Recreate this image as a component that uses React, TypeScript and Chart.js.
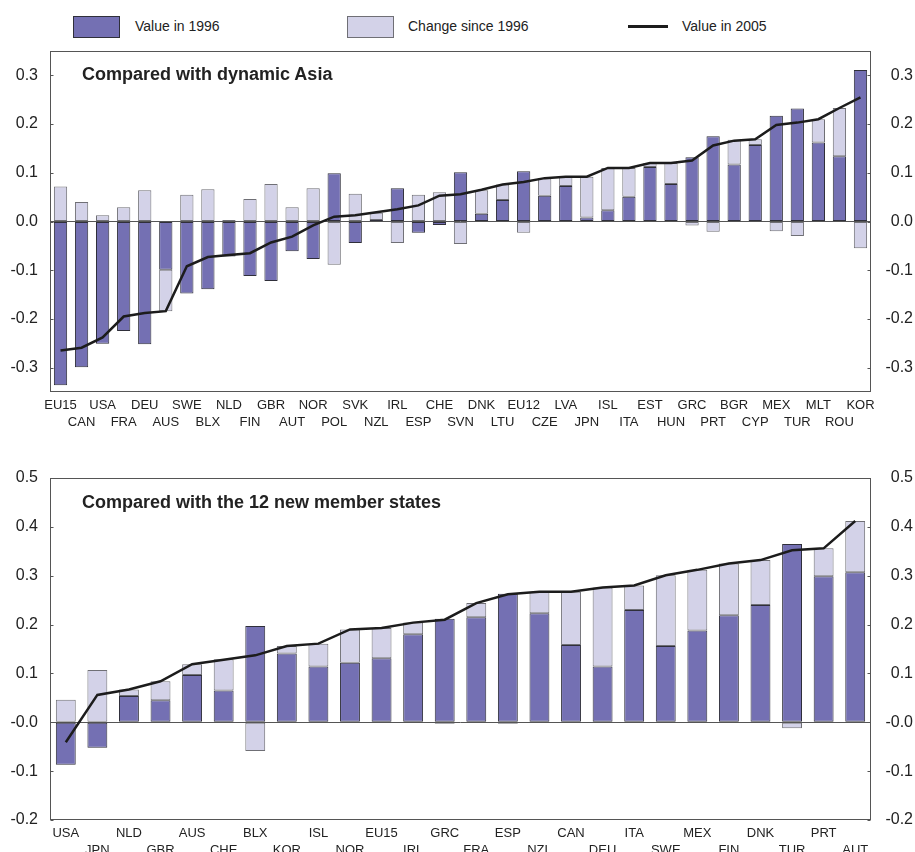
import React, { useEffect, useRef } from 'react';
import { Chart, registerables } from 'chart.js';

Chart.register(...registerables);

// ---------- Top panel: compared with dynamic Asia ----------
const topCategories = ['EU15', 'CAN', 'USA', 'FRA', 'DEU', 'AUS', 'SWE', 'BLX', 'NLD', 'FIN', 'GBR', 'AUT', 'NOR', 'POL', 'SVK', 'NZL', 'IRL', 'ESP', 'CHE', 'SVN', 'DNK', 'LTU', 'EU12', 'CZE', 'LVA', 'JPN', 'ISL', 'ITA', 'EST', 'HUN', 'GRC', 'PRT', 'BGR', 'CYP', 'MEX', 'TUR', 'MLT', 'ROU', 'KOR'];
const topValue1996 = [-0.336, -0.299, -0.251, -0.225, -0.252, -0.099, -0.148, -0.139, -0.072, -0.112, -0.122, -0.061, -0.077, 0.099, -0.044, 0.003, 0.068, -0.023, -0.007, 0.101, 0.016, 0.044, 0.103, 0.053, 0.073, 0.008, 0.023, 0.051, 0.112, 0.077, 0.132, 0.175, 0.117, 0.157, 0.217, 0.232, 0.162, 0.134, 0.311];
const topChange = [0.072, 0.040, 0.013, 0.029, 0.064, -0.085, 0.055, 0.066, 0.003, 0.046, 0.077, 0.029, 0.068, -0.089, 0.057, 0.015, -0.044, 0.055, 0.060, -0.046, 0.048, 0.032, -0.023, 0.036, 0.019, 0.084, 0.087, 0.059, 0.008, 0.043, -0.008, -0.021, 0.051, 0.012, -0.020, -0.030, 0.048, 0.099, -0.055];
const topValue2005 = [-0.265, -0.259, -0.238, -0.195, -0.188, -0.184, -0.092, -0.073, -0.069, -0.065, -0.043, -0.031, -0.008, 0.010, 0.013, 0.019, 0.025, 0.033, 0.053, 0.056, 0.065, 0.076, 0.081, 0.089, 0.092, 0.092, 0.110, 0.110, 0.120, 0.120, 0.125, 0.156, 0.166, 0.169, 0.198, 0.203, 0.210, 0.233, 0.255];
const topTicks = [-0.3, -0.2, -0.1, 0, 0.1, 0.2, 0.3];
const topTickLabels = ['-0.3', '-0.2', '-0.1', '0.0', '0.1', '0.2', '0.3'];
const topMin = -0.35;
const topMax = 0.35;
const topTitle = 'Compared with dynamic Asia';

// ---------- Bottom panel: compared with the 12 new member states ----------
const bottomCategories = ['USA', 'JPN', 'NLD', 'GBR', 'AUS', 'CHE', 'BLX', 'KOR', 'ISL', 'NOR', 'EU15', 'IRL', 'GRC', 'FRA', 'ESP', 'NZL', 'CAN', 'DEU', 'ITA', 'SWE', 'MEX', 'FIN', 'DNK', 'TUR', 'PRT', 'AUT'];
const bottomValue1996 = [-0.087, -0.052, 0.054, 0.045, 0.097, 0.065, 0.197, 0.141, 0.114, 0.122, 0.131, 0.180, 0.212, 0.215, 0.263, 0.223, 0.158, 0.114, 0.230, 0.156, 0.188, 0.219, 0.240, 0.365, 0.299, 0.307];
const bottomChange = [0.046, 0.107, 0.013, 0.039, 0.022, 0.064, -0.059, 0.015, 0.047, 0.068, 0.062, 0.024, -0.003, 0.029, -0.003, 0.044, 0.109, 0.162, 0.050, 0.145, 0.124, 0.106, 0.092, -0.012, 0.057, 0.105];
const bottomValue2005 = [-0.041, 0.056, 0.067, 0.084, 0.119, 0.128, 0.137, 0.156, 0.161, 0.190, 0.193, 0.204, 0.210, 0.244, 0.262, 0.267, 0.267, 0.276, 0.280, 0.301, 0.312, 0.325, 0.332, 0.352, 0.356, 0.412];
const bottomTicks = [-0.2, -0.1, 0, 0.1, 0.2, 0.3, 0.4, 0.5];
const bottomTickLabels = ['-0.2', '-0.1', '-0.0', '0.1', '0.2', '0.3', '0.4', '0.5'];
const bottomMin = -0.2;
const bottomMax = 0.5;
const bottomTitle = 'Compared with the 12 new member states';

// ---------- Legend ----------
const legendLabels = ['Value in 1996', 'Change since 1996', 'Value in 2005'];

const DARK = '#7470B3';
const DARK_BORDER = '#2f2f3a';
const LIGHT = '#D3D2E8';
const LIGHT_BORDER = '#6f6f75';
const LINE = '#1c1c1c';
const FONT = "'Liberation Sans', Arial, Helvetica, sans-serif";

const framePlugin = {
  id: 'frame',
  afterDraw(chart: any) {
    const { ctx, chartArea: a, scales } = chart;
    const y = scales.y;
    ctx.save();
    ctx.strokeStyle = '#555';
    ctx.lineWidth = 1;
    const l = Math.round(a.left) + 0.5;
    const r = Math.round(a.right) - 0.5;
    const t = Math.round(a.top) + 0.5;
    const b = Math.round(a.bottom) - 0.5;
    ctx.strokeRect(l, t, r - l, b - t);
    ctx.beginPath();
    y.ticks.forEach((tk: any) => {
      const py = Math.round(y.getPixelForValue(tk.value)) + 0.5;
      ctx.moveTo(l, py);
      ctx.lineTo(l + 3, py);
      ctx.moveTo(r, py);
      ctx.lineTo(r - 3, py);
    });
    ctx.stroke();
    ctx.restore();
  },
};

function buildConfig(
  categories: string[],
  v1996: number[],
  change: number[],
  v2005: number[],
  ticks: number[],
  tickLabels: string[],
  min: number,
  max: number,
  padTop: number,
  xHeight: number
): any {
  const labels = categories.map((c, i) => (i % 2 === 0 ? [c, ''] : ['', c]));
  const tickCb = (value: any) => {
    const idx = ticks.findIndex((t) => Math.abs(t - value) < 1e-9);
    return idx >= 0 ? tickLabels[idx] : '';
  };
  const setTicks = (scale: any) => {
    scale.ticks = ticks.map((v) => ({ value: v }));
  };
  return {
    type: 'bar',
    data: {
      labels,
      datasets: [
        {
          type: 'line',
          label: legendLabels[2],
          data: v2005,
          borderColor: LINE,
          borderWidth: 2.5,
          pointRadius: 0,
          tension: 0,
          fill: false,
          stack: 'line',
          order: 0,
        },
        {
          label: legendLabels[0],
          data: v1996,
          backgroundColor: DARK,
          borderColor: DARK_BORDER,
          borderWidth: 1,
          borderSkipped: false,
          stack: 'bars',
          order: 1,
        },
        {
          label: legendLabels[1],
          data: change,
          backgroundColor: LIGHT,
          borderColor: LIGHT_BORDER,
          borderWidth: 1,
          borderSkipped: false,
          stack: 'bars',
          order: 1,
        },
      ],
    },
    options: {
      responsive: false,
      animation: false,
      devicePixelRatio: 1,
      layout: { padding: { top: padTop, right: 2, left: 0, bottom: 0 } },
      datasets: { bar: { barPercentage: 0.63, categoryPercentage: 1 } },
      plugins: { legend: { display: false }, tooltip: { enabled: false } },
      scales: {
        x: {
          stacked: true,
          grid: { display: false, drawTicks: false },
          border: { display: false },
          ticks: {
            autoSkip: false,
            maxRotation: 0,
            minRotation: 0,
            padding: 5,
            color: '#222',
            font: { family: FONT, size: 13, lineHeight: 1.3 },
          },
          afterFit: (s: any) => {
            s.height = xHeight;
          },
        },
        y: {
          stacked: true,
          position: 'left',
          min,
          max,
          afterBuildTicks: setTicks,
          grid: {
            drawTicks: false,
            color: (ctx: any) => (ctx.tick && Math.abs(ctx.tick.value) < 1e-9 ? '#555' : 'rgba(0,0,0,0)'),
            lineWidth: 1,
          },
          border: { display: false },
          ticks: {
            padding: 12,
            color: '#222',
            font: { family: FONT, size: 16 },
            callback: tickCb,
          },
          afterFit: (s: any) => {
            s.width = 50;
          },
        },
        y2: {
          position: 'right',
          min,
          max,
          afterBuildTicks: setTicks,
          grid: { display: false, drawTicks: false },
          border: { display: false },
          ticks: {
            padding: 14,
            crossAlign: 'far',
            color: '#222',
            font: { family: FONT, size: 16 },
            callback: tickCb,
          },
          afterFit: (s: any) => {
            s.width = 42;
          },
        },
      },
    },
    plugins: [framePlugin],
  };
}

function Panel(props: {
  top: number;
  height: number;
  config: () => any;
  title: string;
  titleTop: number;
}) {
  const ref = useRef<HTMLCanvasElement | null>(null);
  useEffect(() => {
    if (!ref.current) return;
    const chart = new Chart(ref.current, props.config());
    return () => chart.destroy();
  }, []);
  return (
    <>
      <canvas
        ref={ref}
        width={915}
        height={props.height}
        style={{ position: 'absolute', left: 0, top: props.top, width: 915, height: props.height }}
      />
      <div
        style={{
          position: 'absolute',
          left: 82,
          top: props.titleTop,
          font: `bold 18px ${FONT}`,
          lineHeight: '20px',
          color: '#222',
          whiteSpace: 'nowrap',
        }}
      >
        {props.title}
      </div>
    </>
  );
}

export default function App() {
  const legendText: React.CSSProperties = {
    position: 'absolute',
    top: 17,
    font: `14px ${FONT}`,
    lineHeight: '18px',
    color: '#222',
    whiteSpace: 'nowrap',
  };
  return (
    <div style={{ position: 'absolute', left: 0, top: 0, width: 915, height: 852, background: '#fff', overflow: 'hidden' }}>
      {/* Legend */}
      <div style={{ position: 'absolute', left: 73, top: 16, width: 45, height: 20, background: DARK, border: `1px solid ${DARK_BORDER}` }} />
      <div style={{ ...legendText, left: 135 }}>{legendLabels[0]}</div>
      <div style={{ position: 'absolute', left: 347, top: 16, width: 45, height: 20, background: LIGHT, border: `1px solid ${LIGHT_BORDER}` }} />
      <div style={{ ...legendText, left: 408 }}>{legendLabels[1]}</div>
      <div style={{ position: 'absolute', left: 628, top: 25, width: 40, height: 2.5, background: LINE }} />
      <div style={{ ...legendText, left: 682 }}>{legendLabels[2]}</div>

      <Panel
        top={0}
        height={440}
        title={topTitle}
        titleTop={64}
        config={() =>
          buildConfig(topCategories, topValue1996, topChange, topValue2005, topTicks, topTickLabels, topMin, topMax, 51, 48)
        }
      />
      <Panel
        top={440}
        height={412}
        title={bottomTitle}
        titleTop={492}
        config={() =>
          buildConfig(bottomCategories, bottomValue1996, bottomChange, bottomValue2005, bottomTicks, bottomTickLabels, bottomMin, bottomMax, 38, 32)
        }
      />
    </div>
  );
}
